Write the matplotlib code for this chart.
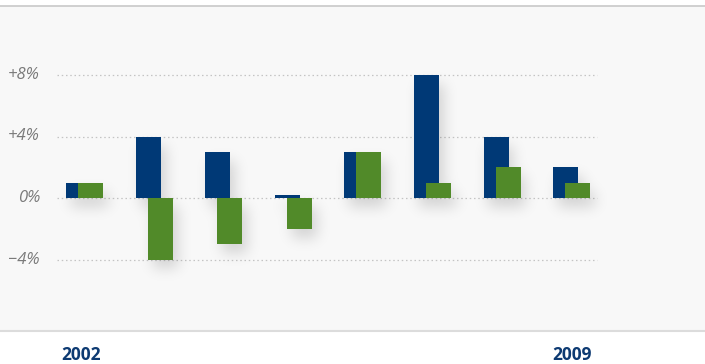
import numpy as np
import matplotlib
matplotlib.use("Agg")
import matplotlib.pyplot as plt
from matplotlib.transforms import blended_transform_factory

# values (percent change)
years = ["2002", "2003", "2004", "2005", "2006", "2007", "2008", "2009"]
blue_vals = [1, 4, 3, 0.2, 3, 8, 4, 2]
green_vals = [1, -4, -3, -2, 3, 1, 2, 1]
tick_vals = [8, 4, 0, -4]
tick_labels = ["+8%", "+4%", "0%", "\u22124%"]
shown_years = {0: "2002", 7: "2009"}

blue = "#003976"
green = "#518a29"

W, H = 705, 364
fig = plt.figure(figsize=(W / 100, H / 100), dpi=100)
# plot panel: full width, from y=6 px to y=331 px
ax = fig.add_axes([0, (H - 331) / H, 1, (331 - 6) / H])
ax.set_facecolor("#f8f8f8")

px_x = 1 / 69.6        # data units per pixel, x
px_y = 4 / 61.5        # data units per pixel, y
xlim = (-84.5 * px_x, (W - 84.5) * px_x)
ylim = (-(331 - 198) * px_y, (198 - 6) * px_y)
ax.set_xlim(*xlim)
ax.set_ylim(*ylim)

x = np.arange(len(years))
bw = 25 * px_x
off = 6 * px_x


def gauss_blur(img, sigma):
    r = int(3 * sigma)
    k = np.exp(-0.5 * (np.arange(-r, r + 1) / sigma) ** 2)
    k /= k.sum()
    img = np.apply_along_axis(lambda m: np.convolve(m, k, mode="same"), 0, img)
    img = np.apply_along_axis(lambda m: np.convolve(m, k, mode="same"), 1, img)
    return img


# soft drop shadow under the bars, built on a pixel grid over the panel
nx, ny = W, 325
gx = np.linspace(xlim[0], xlim[1], nx)
gy = np.linspace(ylim[0], ylim[1], ny)
GX, GY = np.meshgrid(gx, gy)
mask = np.zeros((ny, nx))
sdx, sdy = 5 * px_x, 9 * px_y
for xs, vals in [(x - off, blue_vals), (x + off, green_vals)]:
    for xc, v in zip(xs, vals):
        lo, hi = min(v, 0), max(v, 0)
        inside = ((GX >= xc - bw / 2 + sdx) & (GX <= xc + bw / 2 + sdx)
                  & (GY >= lo - sdy) & (GY <= hi - sdy))
        mask[inside] = 1
shadow = gauss_blur(mask, 7.0)
rgba = np.zeros((ny, nx, 4))
rgba[..., 3] = np.clip(shadow * 0.15, 0, 1)
ax.imshow(rgba, extent=(*xlim, *ylim), origin="lower", aspect="auto",
          interpolation="bilinear", zorder=1)

# gridlines
gx0, gx1 = 57 / W, 597 / W
for v in tick_vals:
    ax.axhline(v, gx0, gx1, color="#c4c4c4", lw=0.9,
               linestyle=(0, (1.2, 2.2)), zorder=0.5)

ax.bar(x - off, blue_vals, width=bw, color=blue, lw=0, zorder=3)
ax.bar(x + off, green_vals, width=bw, color=green, lw=0, zorder=4)

# y labels
ylab_tr = blended_transform_factory(ax.transAxes, ax.transData)
for v, t in zip(tick_vals, tick_labels):
    ax.text(40 / W, v, t, transform=ylab_tr, ha="right", va="center",
            fontsize=12, style="italic", color="#7a7a7a",
            family=["Open Sans", "DejaVu Sans"])

# year labels below panel
xlab_tr = blended_transform_factory(ax.transData, fig.transFigure)
for i, t in shown_years.items():
    ax.text(x[i] - 3 * px_x * (i == 0), (H - 355) / H, t, transform=xlab_tr,
            ha="center", va="center", fontsize=12.5, fontweight="bold",
            color="#0d3a72", family=["Open Sans", "DejaVu Sans"])

ax.set_xticks([])
ax.set_yticks([])
for s in ["left", "right"]:
    ax.spines[s].set_visible(False)
ax.spines["top"].set_color("#c8c8c8")
ax.spines["top"].set_linewidth(1.2)
ax.spines["bottom"].set_color("#dcdcdc")
ax.spines["bottom"].set_linewidth(1.5)

fig.savefig("out.png", dpi=100, facecolor="white")
